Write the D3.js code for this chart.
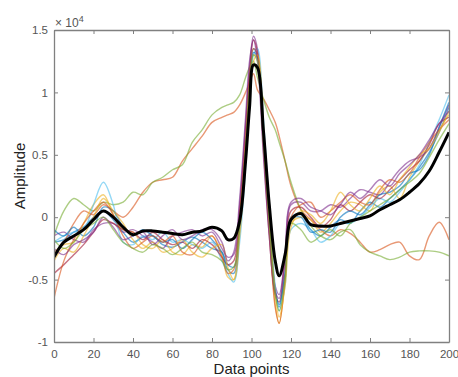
<!DOCTYPE html>
<html>
<head>
<meta charset="utf-8">
<script src="https://cdn.jsdelivr.net/npm/d3@7"></script>
<style>
  body { margin: 0; background: #fff; }
  svg { display: block; }
  .tick-label { font-family: "Liberation Sans", Arial, sans-serif; font-size: 11.5px; fill: #555; }
  .axis-title { font-family: "Liberation Sans", Arial, sans-serif; font-size: 15px; fill: #222; }
</style>
</head>
<body>
<div id="chart"></div>
<script>
// sample positions (data points) shared by every trace
var samplePoints = [0, 5, 10, 15, 20, 25, 30, 35, 40, 45, 50, 55, 60, 65, 70, 75, 80, 85,
    88, 91, 94, 97, 99, 101, 103, 106, 109, 112, 114, 117, 120,
    125, 130, 135, 140, 145, 150, 155, 160, 165, 170, 175, 180, 185, 190, 195, 200];

// amplitudes, in units of 10^4
var trace1 = [-0.2, -0.18, -0.12, -0.08, 0.0, 0.05, -0.02, -0.12, -0.2, -0.16, -0.15, -0.22, -0.24, -0.2, -0.16, -0.2, -0.25, -0.28,
    -0.38, -0.4, -0.05, 0.55, 1.05, 1.35, 1.3, 0.7, 0.0, -0.6, -0.72, -0.45, 0.0,
    0.02, -0.1, -0.15, -0.08, -0.02, -0.05, 0.05, 0.12, 0.08, 0.15, 0.22, 0.3, 0.4, 0.52, 0.68, 0.88];
var trace2 = [-0.3, -0.2, -0.05, 0.05, 0.02, 0.1, 0.05, 0.0, 0.08, 0.2, 0.28, 0.3, 0.32, 0.45, 0.55, 0.65, 0.76, 0.8,
    0.82, 0.84, 0.9, 1.0, 1.08, 1.15, 1.02, 0.95, 0.86, 0.76, 0.65, 0.45, 0.25,
    0.06, -0.02, -0.1, -0.15, -0.1, -0.13, -0.2, -0.28, -0.26, -0.22, -0.2, -0.31, -0.34, -0.15, -0.04, -0.18];
var trace3 = [-0.28, -0.22, -0.2, -0.05, 0.1, 0.18, 0.02, -0.1, -0.12, -0.22, -0.25, -0.18, -0.28, -0.3, -0.22, -0.24, -0.15, -0.3,
    -0.48, -0.5, -0.1, 0.5, 1.0, 1.3, 1.28, 0.65, -0.05, -0.7, -0.85, -0.5, -0.05,
    0.0, -0.02, -0.12, -0.05, 0.05, 0.12, 0.1, 0.05, 0.2, 0.25, 0.15, 0.32, 0.45, 0.55, 0.7, 0.82];
var trace4 = [-0.15, -0.12, -0.18, -0.2, -0.1, -0.05, -0.05, -0.12, -0.1, -0.15, -0.2, -0.25, -0.15, -0.12, -0.1, -0.15, -0.12, -0.25,
    -0.32, -0.3, 0.1, 0.75, 1.2, 1.45, 1.35, 0.6, -0.1, -0.55, -0.62, -0.3, 0.1,
    0.12, 0.05, 0.05, 0.1, 0.08, 0.15, 0.22, 0.2, 0.18, 0.28, 0.38, 0.45, 0.48, 0.55, 0.72, 0.9];
var trace5 = [-0.15, 0.05, 0.15, 0.1, 0.05, 0.12, 0.1, 0.12, 0.2, 0.18, 0.28, 0.32, 0.38, 0.42, 0.6, 0.7, 0.82, 0.88,
    0.9, 0.92, 0.98, 1.12, 1.2, 1.25, 1.12, 0.95, 0.8, 0.7, 0.6, 0.45, 0.28,
    0.06, -0.07, -0.15, -0.18, -0.12, -0.1, -0.22, -0.28, -0.31, -0.34, -0.32, -0.28, -0.27, -0.27, -0.28, -0.31];
var trace6 = [-0.2, -0.15, -0.12, -0.1, 0.1, 0.28, 0.1, -0.2, -0.22, -0.15, -0.18, -0.12, -0.2, -0.18, -0.22, -0.25, -0.2, -0.35,
    -0.45, -0.52, -0.2, 0.4, 0.95, 1.3, 1.35, 0.8, 0.1, -0.55, -0.75, -0.55, -0.1,
    -0.05, -0.1, -0.2, -0.15, -0.05, -0.05, 0.0, 0.08, 0.15, 0.12, 0.2, 0.3, 0.42, 0.6, 0.78, 0.98];
var trace7 = [-0.45, -0.38, -0.3, -0.22, -0.12, -0.02, -0.05, -0.1, -0.12, -0.18, -0.12, -0.18, -0.22, -0.2, -0.25, -0.18, -0.22, -0.32,
    -0.38, -0.35, 0.05, 0.7, 1.15, 1.42, 1.32, 0.55, -0.15, -0.62, -0.68, -0.35, 0.05,
    0.08, 0.0, -0.08, -0.02, 0.1, 0.05, 0.12, 0.18, 0.15, 0.22, 0.3, 0.38, 0.45, 0.58, 0.75, 0.8];
var trace8 = [-0.1, -0.15, -0.08, -0.15, -0.08, 0.08, 0.05, -0.08, -0.15, -0.1, -0.15, -0.2, -0.18, -0.25, -0.18, -0.12, -0.18, -0.28,
    -0.42, -0.45, -0.1, 0.5, 1.05, 1.32, 1.28, 0.65, 0.0, -0.58, -0.7, -0.45, -0.02,
    0.0, -0.12, -0.1, -0.12, 0.0, 0.05, 0.02, 0.1, 0.18, 0.2, 0.25, 0.35, 0.38, 0.5, 0.72, 0.92];
var trace9 = [-0.65, -0.35, -0.18, -0.05, 0.05, 0.12, 0.02, -0.15, -0.25, -0.2, -0.15, -0.2, -0.15, -0.28, -0.3, -0.2, -0.15, -0.32,
    -0.45, -0.42, 0.0, 0.6, 1.1, 1.35, 1.3, 0.6, -0.1, -0.72, -0.85, -0.5, 0.0,
    0.1, 0.12, 0.0, 0.05, 0.12, 0.18, 0.12, 0.1, 0.22, 0.3, 0.28, 0.35, 0.48, 0.6, 0.7, 0.78];
var trace10 = [-0.35, -0.25, -0.28, -0.15, 0.0, 0.15, 0.05, -0.05, -0.18, -0.25, -0.2, -0.28, -0.25, -0.18, -0.28, -0.32, -0.25, -0.22,
    -0.4, -0.5, -0.15, 0.45, 0.95, 1.25, 1.3, 0.75, 0.05, -0.6, -0.8, -0.55, -0.08,
    0.05, 0.02, -0.05, 0.05, 0.2, 0.1, 0.05, 0.15, 0.25, 0.18, 0.3, 0.4, 0.5, 0.55, 0.68, 0.85];
var trace11 = [-0.25, -0.3, -0.22, -0.18, -0.12, 0.0, -0.08, -0.18, -0.15, -0.12, -0.22, -0.15, -0.1, -0.18, -0.15, -0.1, -0.1, -0.2,
    -0.35, -0.28, 0.15, 0.8, 1.25, 1.42, 1.25, 0.5, -0.15, -0.6, -0.65, -0.3, 0.12,
    0.15, 0.08, 0.05, 0.02, 0.1, 0.2, 0.15, 0.22, 0.3, 0.25, 0.35, 0.42, 0.5, 0.62, 0.75, 0.85];
var trace12 = [-0.18, -0.25, -0.2, -0.1, -0.05, 0.0, -0.1, -0.2, -0.25, -0.28, -0.22, -0.25, -0.3, -0.25, -0.2, -0.28, -0.3, -0.35,
    -0.42, -0.4, -0.05, 0.55, 1.05, 1.3, 1.25, 0.6, -0.05, -0.62, -0.75, -0.5, -0.05,
    -0.1, -0.2, -0.15, -0.1, -0.15, -0.05, 0.0, 0.05, 0.1, 0.15, 0.22, 0.28, 0.35, 0.48, 0.62, 0.75];

// thick black average trace
var meanTrace = [-0.32, -0.2, -0.15, -0.1, -0.02, 0.05, 0.0, -0.08, -0.14, -0.11, -0.11, -0.12, -0.13, -0.14, -0.12, -0.11, -0.08, -0.11,
    -0.18, -0.17, -0.03, 0.45, 0.88, 1.22, 1.2, 0.7, 0.1, -0.35, -0.47, -0.3, -0.02,
    0.03, -0.06, -0.07, -0.07, -0.05, -0.03, -0.01, 0.01, 0.06, 0.1, 0.14, 0.2, 0.27, 0.37, 0.52, 0.68];

var traces = [trace1, trace2, trace3, trace4, trace5, trace6, trace7, trace8, trace9, trace10, trace11, trace12];

// MATLAB default line colour order
var lineColors = ["#0072BD", "#D95319", "#EDB120", "#7E2F8E", "#77AC30", "#4DBEEE", "#A2142F"];

var xTicks = [0, 20, 40, 60, 80, 100, 120, 140, 160, 180, 200];
var yTicks = [-1, -0.5, 0, 0.5, 1, 1.5];

var width = 458, height = 377;
var margin = {top: 30, right: 9, bottom: 35, left: 54};
var plotW = width - margin.left - margin.right;
var plotH = height - margin.top - margin.bottom;

var svg = d3.select("#chart").append("svg")
    .attr("width", width)
    .attr("height", height);

var xScale = d3.scaleLinear().domain([0, 200]).range([0, plotW]);
var yScale = d3.scaleLinear().domain([-1, 1.5]).range([plotH, 0]);

var g = svg.append("g")
    .attr("transform", "translate(" + margin.left + "," + margin.top + ")");

svg.append("clipPath").attr("id", "plot-clip")
    .append("rect")
    .attr("width", plotW)
    .attr("height", plotH);

var line = d3.line()
    .x(function(d, i) { return xScale(samplePoints[i]); })
    .y(function(d) { return yScale(d); })
    .curve(d3.curveCatmullRom.alpha(0.5));

var plot = g.append("g").attr("clip-path", "url(#plot-clip)");

// coloured individual traces
plot.selectAll("path.trace")
    .data(traces)
    .enter()
    .append("path")
    .attr("class", "trace")
    .attr("d", line)
    .attr("fill", "none")
    .attr("stroke", function(d, i) { return lineColors[i % lineColors.length]; })
    .attr("stroke-opacity", 0.6)
    .attr("stroke-width", 1.4);

// average on top
plot.append("path")
    .attr("d", line(meanTrace))
    .attr("fill", "none")
    .attr("stroke", "#000")
    .attr("stroke-width", 3);

// axes, ticks inward on all four sides (box on)
var axisColor = "#808080";

var bottomAxis = d3.axisBottom(xScale).tickValues(xTicks).tickSizeInner(-4).tickSizeOuter(0).tickPadding(8);
var topAxis = d3.axisTop(xScale).tickValues(xTicks).tickSizeInner(-4).tickSizeOuter(0).tickFormat("");
var leftAxis = d3.axisLeft(yScale).tickValues(yTicks).tickSizeInner(-4).tickSizeOuter(0).tickPadding(6)
    .tickFormat(function(d) { return d; });
var rightAxis = d3.axisRight(yScale).tickValues(yTicks).tickSizeInner(-4).tickSizeOuter(0).tickFormat("");

g.append("g").attr("transform", "translate(0," + plotH + ")").call(bottomAxis);
g.append("g").call(topAxis);
g.append("g").call(leftAxis);
g.append("g").attr("transform", "translate(" + plotW + ",0)").call(rightAxis);

g.selectAll(".domain").attr("stroke", axisColor).attr("stroke-width", 1.3);
g.selectAll(".tick line").attr("stroke", axisColor).attr("stroke-width", 1);
g.selectAll(".tick text")
    .attr("class", "tick-label")
    .attr("fill", null);

// exponent label above the y axis
var expLabel = svg.append("text")
    .attr("class", "tick-label")
    .attr("x", margin.left + 1)
    .attr("y", margin.top - 3)
    .style("font-size", "12px");
expLabel.append("tspan").text("\u00d7 10");
expLabel.append("tspan").attr("dy", -5).style("font-size", "9px").text("4");

// axis titles
svg.append("text")
    .attr("class", "axis-title")
    .attr("text-anchor", "middle")
    .attr("x", margin.left + plotW / 2)
    .attr("y", height - 3)
    .text("Data points");

svg.append("text")
    .attr("class", "axis-title")
    .attr("text-anchor", "middle")
    .attr("transform", "translate(25," + (margin.top + plotH / 2 - 10) + ") rotate(-90)")
    .text("Amplitude");
</script>
</body>
</html>
